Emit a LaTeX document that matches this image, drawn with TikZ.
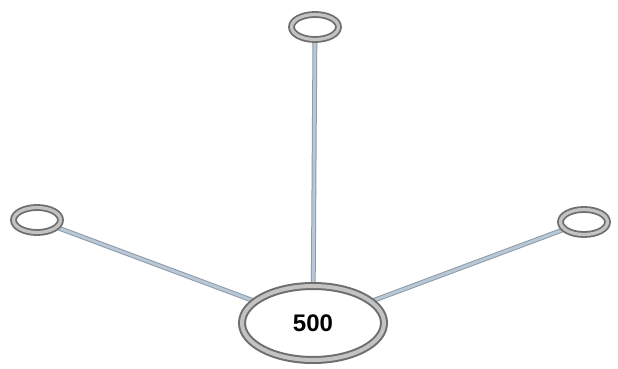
\documentclass[tikz,border=0pt]{standalone}
\usepackage{fontspec}
\setmainfont{Liberation Sans}
\usetikzlibrary{shapes.geometric, backgrounds}
\definecolor{ringdark}{RGB}{110,110,110}
\definecolor{ringlight}{RGB}{195,195,195}
\definecolor{spokeedge}{RGB}{140,155,170}
\definecolor{spokefill}{RGB}{185,200,212}

\tikzset{
  ring/.style={ellipse, draw=ringdark, line width=1.8pt, double=ringlight,
    double distance=3.2pt, inner sep=0pt, minimum width=47pt, minimum height=25pt},
  hub/.style={ellipse, draw=ringdark, line width=2pt, double=ringlight,
    double distance=4pt, inner sep=0pt, minimum width=142pt, minimum height=74pt,
    fill=white, font=\fontsize{24}{28}\selectfont\bfseries},
  spoke/.style={draw=spokeedge, line width=1pt, double=spokefill, double distance=2.8pt}
}

\begin{document}
\begin{tikzpicture}[x=1pt, y=-1pt]
  \useasboundingbox (0,0) rectangle (618,369);

  % hub and the three outer rings
  \node[hub] (hub) at (313,323) {500};
  \node[ring] (top) at (315,27) {};
  \node[ring] (left) at (37,220) {};
  \node[ring] (right) at (584,222) {};

  % spokes
  \begin{scope}[on background layer]
    \draw[spoke] (top) -- (hub);
    \draw[spoke] (left) -- (hub);
    \draw[spoke] (right) -- (hub);
  \end{scope}
\end{tikzpicture}
\end{document}
